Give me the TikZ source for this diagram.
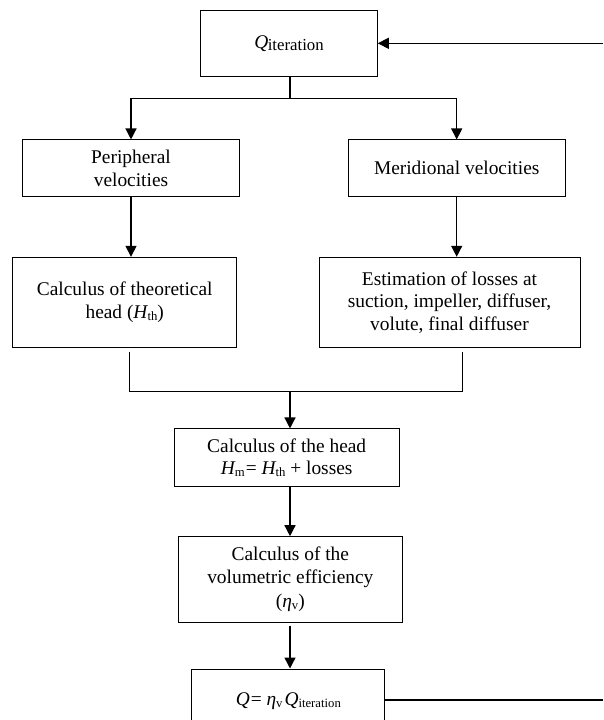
\documentclass[tikz,border=0pt]{standalone}
\usepackage{fontspec}
\setmainfont{Liberation Serif}
\usetikzlibrary{arrows.meta}
\newcommand{\sbs}[2][12.7]{\raisebox{-0.2ex}{\fontsize{#1}{#1}\selectfont #2}}
\tikzset{
  box/.style={draw, line width=1pt, align=center, inner sep=0pt,
    font=\fontsize{19.4}{22.5}\selectfont},
  arr/.style={line width=1.4pt, -{Triangle[length=11pt,width=11pt]}},
  plain/.style={line width=1.4pt},
  thin line/.style={line width=1pt}
}
\begin{document}
\begin{tikzpicture}[x=1pt,y=-1pt]
\useasboundingbox (0,0) rectangle (603,720);
\clip (0,0) rectangle (603,720);
\fill[white] (0,0) rectangle (603,720);

\node[box, minimum width=176.6pt, minimum height=66pt] (top) at (289,43.7)
  {{\itshape Q}\kern-0.5pt\sbs[16.8]{iteration}};
\node[box, minimum width=216.6pt, minimum height=56.7pt] (periph) at (131,168.3)
  {Peripheral\\velocities};
\node[box, minimum width=216.7pt, minimum height=56.7pt] (merid) at (456.7,168.3)
  {Meridional velocities};
\node[box, minimum width=224pt, minimum height=90pt] (theo) at (124.7,302.3)
  {Calculus of theoretical\\head ({\itshape H}\sbs{th})};
\node[box, minimum width=261pt, minimum height=90pt] (est) at (449.5,302.3)
  {Estimation of losses at\\suction, impeller, diffuser,\\volute, final diffuser};
\node[box, minimum width=225pt, minimum height=57.7pt] (headbox) at (286.7,457.8)
  {Calculus of the head\\{\itshape H}\sbs{m}\kern1pt= {\itshape H}\sbs{th} + losses};
\node[box, minimum width=224pt, minimum height=85.6pt] (vol) at (290.3,579.5)
  {Calculus of the\\volumetric efficiency\\[2pt]({\itshape η}\sbs{v})};
\node[box, minimum width=193.3pt, minimum height=62pt, text depth=0pt] (qbox) at (288.3,700)
  {\raisebox{2pt}{{\itshape Q}\kern1pt= {\itshape η}\sbs{v}\kern2pt{\itshape Q}\sbs{iteration}}};

% split from top
\coordinate (split) at (290,98.3);
\draw[plain] (top.south -| split) -- (split);
\draw[arr] (split) -| (periph.north);
\draw[arr] (split) -| (merid.north);

% down arrows
\draw[arr] (periph.south) -- (periph.south |- theo.north);
\draw[arr] (merid.south) -- (merid.south |- est.north);

% merge
\coordinate (ml) at (129,351.7);
\coordinate (mlb) at (129,391.7);
\coordinate (mr) at (462.7,351.7);
\coordinate (mrb) at (462.7,391.7);
\coordinate (mj) at (290,391.7);
\draw[thin line] (ml) -- (mlb) -- (mrb) -- (mr);
\draw[arr] (mj) -- (mj |- headbox.north);

\coordinate (hv) at (290,486.7);
\draw[arr] (hv) -- (hv |- vol.north);
\coordinate (vq) at (290,625.7);
\draw[arr] (vq) -- (vq |- qbox.north);

% feedback
\coordinate (fbB) at (603,700);
\coordinate (fbT) at (603,43.3);
\draw[plain] (qbox.east |- fbB) -- (fbB);
\draw[arr] (fbT) -- (top.east |- fbT);
\end{tikzpicture}
\end{document}
